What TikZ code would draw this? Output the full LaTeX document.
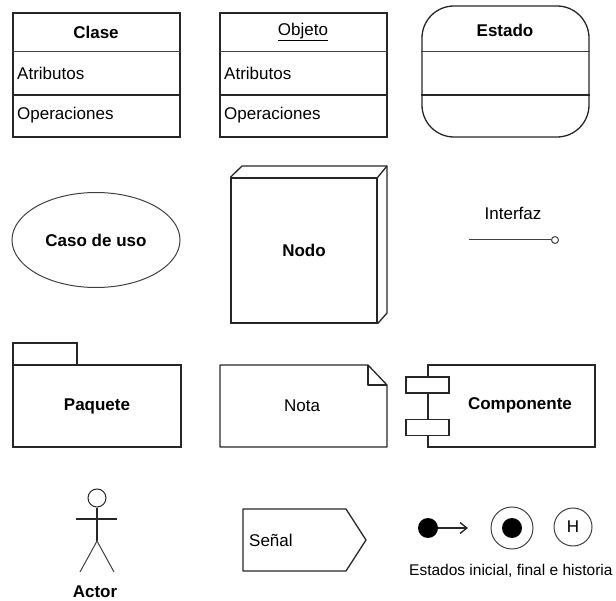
\documentclass[tikz,border=0pt]{standalone}
\usepackage{fontspec}
\setmainfont{Liberation Sans}
\usetikzlibrary{shapes.geometric,arrows.meta}
\begin{document}
\begin{tikzpicture}[x=1pt,y=-1pt,
  outline/.style={draw=black!85, line width=1.3pt},
  thin line/.style={draw=black!75, line width=1pt},
  panel/.style={outline, rectangle, inner sep=0pt, minimum width=167pt, minimum height=124pt},
  lbl/.style={inner sep=0pt, font=\fontsize{17}{19}\selectfont},
  title/.style={inner sep=0pt, font=\fontsize{17}{19}\selectfont\bfseries},
  dot/.style={circle, fill=black, inner sep=0pt, minimum size=20pt},
  ring/.style={circle, thin line, inner sep=0pt}]
\useasboundingbox (0,0) rectangle (616,601);

% --- class and object compartments ---
\node[panel] (clase) at (96.5,75) {};
\draw[thin line] (clase.west |- 0,52) -- (clase.east |- 0,52);
\draw[outline] (clase.west |- 0,95) -- (clase.east |- 0,95);
\node[title] (claseT) at (96,32) {Clase};
\node[lbl, anchor=west] (claseA) at (17,73) {Atributos};
\node[lbl, anchor=west] (claseO) at (17,115) {Operaciones};

\node[panel] (objeto) at (303.5,75) {};
\draw[thin line] (objeto.west |- 0,52) -- (objeto.east |- 0,52);
\draw[outline] (objeto.west |- 0,95) -- (objeto.east |- 0,95);
\node[lbl] (objetoT) at (303,32) {\underline{Objeto}};
\node[lbl, anchor=west] (objetoA) at (224,73) {Atributos};
\node[lbl, anchor=west] (objetoO) at (224,115) {Operaciones};

% --- state ---
\node[outline, rectangle, rounded corners=32pt, inner sep=0pt,
      minimum width=167pt, minimum height=131pt] (estado) at (505.5,71.5) {};
\draw[thin line] (estado.west |- 0,52) -- (estado.east |- 0,52);
\draw[outline] (estado.west |- 0,95) -- (estado.east |- 0,95);
\node[title] (estadoT) at (505,30) {Estado};

% --- use case ---
\node[ellipse, thin line, inner sep=0pt, minimum width=168pt, minimum height=95pt,
      font=\fontsize{17}{19}\selectfont\bfseries] (uso) at (96,240) {Caso de uso};

% --- deployment node ---
\node[outline, rectangle, inner sep=0pt, minimum width=146pt, minimum height=145pt,
      font=\fontsize{17}{19}\selectfont\bfseries] (nodo) at (304,250.5) {Nodo};
\coordinate (nodoTL) at (242,166);
\coordinate (nodoTR) at (387,166);
\coordinate (nodoBR) at (387,313);
\draw[outline, line join=round] (nodo.north west) -- (nodoTL) -- (nodoTR) -- (nodoBR) -- (nodo.south east);
\draw[outline] (nodo.north east) -- (nodoTR);

% --- interface (lollipop) ---
\node[lbl] (ifcT) at (513,213) {Interfaz};
\node[ring, minimum size=7pt] (lolli) at (555,240) {};
\coordinate (ifcStart) at (469,240);
\draw[thin line] (ifcStart) -- (lolli);

% --- package ---
\node[outline, rectangle, inner sep=0pt, minimum width=64pt, minimum height=22pt] (tab) at (45,354) {};
\node[outline, rectangle, inner sep=0pt, minimum width=168pt, minimum height=82pt,
      font=\fontsize{17}{19}\selectfont\bfseries] (paquete) at (97,406) {Paquete};

% --- note with folded corner ---
\draw[outline, line join=round] (220,365) -- (368,365) -- (387,385) -- (387,447) -- (220,447) -- cycle;
\draw[outline, line join=round] (368,365) -- (368,385) -- (387,385);
\node[lbl] (nota) at (302,406) {Nota};

% --- component ---
\node[outline, rectangle, inner sep=0pt, minimum width=167pt, minimum height=82pt] (comp) at (511.5,406) {};
\node[outline, fill=white, rectangle, inner sep=0pt, minimum width=43pt, minimum height=16pt] (plug1) at (427.5,385) {};
\node[outline, fill=white, rectangle, inner sep=0pt, minimum width=43pt, minimum height=16pt] (plug2) at (427.5,427.5) {};
\node[title] (compT) at (520,405) {Componente};

% --- actor ---
\node[ring, draw=black!85, minimum size=18pt] (head) at (97,498) {};
\coordinate (hip) at (97,541);
\coordinate (handL) at (76,519);
\coordinate (handR) at (117,519);
\coordinate (footL) at (80,572);
\coordinate (footR) at (114,572);
\draw[outline] (head) -- (hip);
\draw[outline] (handL) -- (handR);
\draw[thin line] (footL) -- (hip) -- (footR);
\node[title] (actor) at (95,592) {Actor};

% --- signal ---
\draw[outline, line join=round] (243,509) -- (346,509) -- (366,540) -- (346,571) -- (243,571) -- cycle;
\node[lbl, anchor=west] (senal) at (249,540) {Señal};

% --- initial, final and history states ---
\node[dot] (ini) at (428,528) {};
\coordinate (iniTip) at (468,528);
\draw[outline, -{Straight Barb[length=7pt, width=11pt]}] (ini) -- (iniTip);
\node[ring, minimum size=42pt] (fin) at (512,528) {};
\node[dot] (finDot) at (512,528) {};
\node[ring, minimum size=38pt, font=\fontsize{17}{19}\selectfont] (hist) at (573,527) {H};
\node[inner sep=0pt, anchor=west, font=\fontsize{15.5}{18}\selectfont] (estadosT) at (409,571) {Estados inicial, final e historia};
\end{tikzpicture}
\end{document}
